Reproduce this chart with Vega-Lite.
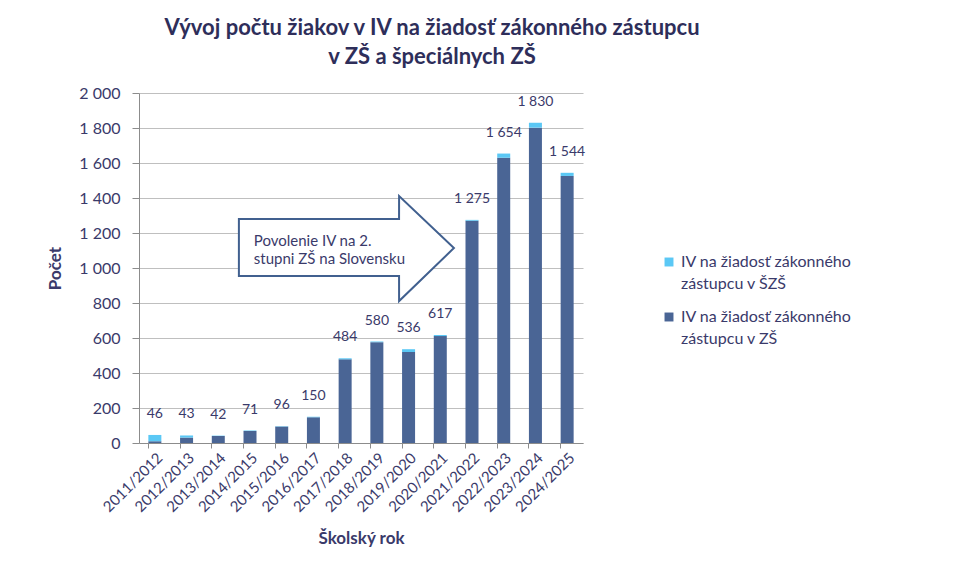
{
  "$schema": "https://vega.github.io/schema/vega-lite/v6.json",
  "width": 444,
  "height": 350,
  "padding": {"left": 46, "top": 17, "right": 10, "bottom": 10},
  "background": "white",
  "title": {
    "text": ["Vývoj počtu žiakov v IV na žiadosť zákonného zástupcu", "v ZŠ a špeciálnych ZŠ"],
    "font": "Lato", "fontSize": 22, "fontWeight": "bold", "color": "#2e2e5a",
    "anchor": "middle", "offset": 16, "lineHeight": 29, "dx": 71
  },
  "config": {
    "locale": {"number": {"decimal": ",", "thousands": " ", "grouping": [3], "currency": ["", " €"]}},
    "font": "Lato",
    "view": {"stroke": null},
    "style": {"guide-label": {"lineHeight": 22}}
  },
  "datasets": {
    "parts": [
      {"rok": "2011/2012", "typ": "IV na žiadosť zákonného zástupcu v ZŠ", "pocet": 10},
      {"rok": "2011/2012", "typ": "IV na žiadosť zákonného zástupcu v ŠZŠ", "pocet": 36},
      {"rok": "2012/2013", "typ": "IV na žiadosť zákonného zástupcu v ZŠ", "pocet": 31},
      {"rok": "2012/2013", "typ": "IV na žiadosť zákonného zástupcu v ŠZŠ", "pocet": 12},
      {"rok": "2013/2014", "typ": "IV na žiadosť zákonného zástupcu v ZŠ", "pocet": 40},
      {"rok": "2013/2014", "typ": "IV na žiadosť zákonného zástupcu v ŠZŠ", "pocet": 2},
      {"rok": "2014/2015", "typ": "IV na žiadosť zákonného zástupcu v ZŠ", "pocet": 69},
      {"rok": "2014/2015", "typ": "IV na žiadosť zákonného zástupcu v ŠZŠ", "pocet": 2},
      {"rok": "2015/2016", "typ": "IV na žiadosť zákonného zástupcu v ZŠ", "pocet": 94},
      {"rok": "2015/2016", "typ": "IV na žiadosť zákonného zástupcu v ŠZŠ", "pocet": 2},
      {"rok": "2016/2017", "typ": "IV na žiadosť zákonného zástupcu v ZŠ", "pocet": 147},
      {"rok": "2016/2017", "typ": "IV na žiadosť zákonného zástupcu v ŠZŠ", "pocet": 3},
      {"rok": "2017/2018", "typ": "IV na žiadosť zákonného zástupcu v ZŠ", "pocet": 478},
      {"rok": "2017/2018", "typ": "IV na žiadosť zákonného zástupcu v ŠZŠ", "pocet": 6},
      {"rok": "2018/2019", "typ": "IV na žiadosť zákonného zástupcu v ZŠ", "pocet": 576},
      {"rok": "2018/2019", "typ": "IV na žiadosť zákonného zástupcu v ŠZŠ", "pocet": 4},
      {"rok": "2019/2020", "typ": "IV na žiadosť zákonného zástupcu v ZŠ", "pocet": 520},
      {"rok": "2019/2020", "typ": "IV na žiadosť zákonného zástupcu v ŠZŠ", "pocet": 16},
      {"rok": "2020/2021", "typ": "IV na žiadosť zákonného zástupcu v ZŠ", "pocet": 611},
      {"rok": "2020/2021", "typ": "IV na žiadosť zákonného zástupcu v ŠZŠ", "pocet": 6},
      {"rok": "2021/2022", "typ": "IV na žiadosť zákonného zástupcu v ZŠ", "pocet": 1270},
      {"rok": "2021/2022", "typ": "IV na žiadosť zákonného zástupcu v ŠZŠ", "pocet": 5},
      {"rok": "2022/2023", "typ": "IV na žiadosť zákonného zástupcu v ZŠ", "pocet": 1630},
      {"rok": "2022/2023", "typ": "IV na žiadosť zákonného zástupcu v ŠZŠ", "pocet": 24},
      {"rok": "2023/2024", "typ": "IV na žiadosť zákonného zástupcu v ZŠ", "pocet": 1802},
      {"rok": "2023/2024", "typ": "IV na žiadosť zákonného zástupcu v ŠZŠ", "pocet": 28},
      {"rok": "2024/2025", "typ": "IV na žiadosť zákonného zástupcu v ZŠ", "pocet": 1526},
      {"rok": "2024/2025", "typ": "IV na žiadosť zákonného zástupcu v ŠZŠ", "pocet": 18}
    ],
    "totals": [
      {"rok": "2011/2012", "spolu": 46},
      {"rok": "2012/2013", "spolu": 43},
      {"rok": "2013/2014", "spolu": 42},
      {"rok": "2014/2015", "spolu": 71},
      {"rok": "2015/2016", "spolu": 96},
      {"rok": "2016/2017", "spolu": 150},
      {"rok": "2017/2018", "spolu": 484},
      {"rok": "2018/2019", "spolu": 580},
      {"rok": "2019/2020", "spolu": 536},
      {"rok": "2020/2021", "spolu": 617},
      {"rok": "2021/2022", "spolu": 1275},
      {"rok": "2022/2023", "spolu": 1654},
      {"rok": "2023/2024", "spolu": 1830},
      {"rok": "2024/2025", "spolu": 1544}
    ],
    "arrow": [
      {"ax": 3.15, "ay": 954, "ay2": 1280},
      {"ax": 8.2, "ay": 954, "ay2": 1280},
      {"ax": 8.201, "ay": 811, "ay2": 1411},
      {"ax": 9.93, "ay": 1114, "ay2": 1114}
    ],
    "note": [
      {"nx": 3.62, "ny": 1154, "txt": "Povolenie IV na 2.\nstupni ZŠ na Slovensku"}
    ]
  },
  "layer": [
    {
      "layer": [
        {
          "data": {"name": "parts"},
          "mark": {"type": "bar"},
          "encoding": {
            "x": {
              "field": "rok", "type": "nominal", "sort": null,
              "scale": {"paddingInner": 0.59, "paddingOuter": 0.295},
              "axis": {
                "title": "Školský rok", "titleFontSize": 17, "titleFontWeight": "bold", "titleColor": "#3a3a6a",
                "titlePadding": 16,
                "labelAngle": -45, "labelFontSize": 15, "labelColor": "#3a3a6a",
                "domainColor": "#8c8c8c", "tickColor": "#8c8c8c", "tickSize": 5,
                "bandPosition": 0
              }
            },
            "y": {
              "field": "pocet", "type": "quantitative", "aggregate": "sum", "stack": "zero",
              "scale": {"domain": [0, 2000]},
              "axis": {
                "title": "Počet", "titleFontSize": 17, "titleFontWeight": "bold", "titleColor": "#3a3a6a",
                "titlePadding": 14,
                "values": [0, 200, 400, 600, 800, 1000, 1200, 1400, 1600, 1800, 2000],
                "labelOverlap": false,
                "format": ",d", "labelFontSize": 16, "labelColor": "#3a3a6a", "labelPadding": 12,
                "gridColor": "#bfbfbf", "domainColor": "#8c8c8c", "tickColor": "#8c8c8c", "tickSize": 7
              }
            },
            "color": {
              "field": "typ", "type": "nominal",
              "scale": {
                "domain": ["IV na žiadosť zákonného zástupcu v ŠZŠ", "IV na žiadosť zákonného zástupcu v ZŠ"],
                "range": ["#5bc8f5", "#4a6595"]
              },
              "legend": {
                "title": null, "orient": "none", "legendX": 522, "legendY": 161,
                "symbolType": "square", "symbolSize": 80, "symbolStrokeWidth": 0,
                "labelFontSize": 16, "labelColor": "#3a3a6a", "labelLimit": 300,
                "labelExpr": "[slice(datum.label, 0, 23), slice(datum.label, 24)]",
                "rowPadding": 17
              }
            },
            "order": {"field": "typ", "sort": "ascending"}
          }
        },
        {
          "data": {"name": "totals"},
          "mark": {"type": "text", "dy": -21, "fontSize": 14, "color": "#3a3a6a"},
          "encoding": {
            "x": {"field": "rok", "type": "nominal", "sort": null},
            "y": {
              "field": "spolu", "type": "quantitative",
              "axis": {
                "title": "Počet", "titleFontSize": 17, "titleFontWeight": "bold", "titleColor": "#3a3a6a",
                "titlePadding": 14,
                "values": [0, 200, 400, 600, 800, 1000, 1200, 1400, 1600, 1800, 2000],
                "labelOverlap": false,
                "format": ",d", "labelFontSize": 16, "labelColor": "#3a3a6a", "labelPadding": 12,
                "gridColor": "#bfbfbf", "domainColor": "#8c8c8c", "tickColor": "#8c8c8c", "tickSize": 7
              }
            },
            "text": {"field": "spolu", "type": "quantitative", "format": ",d"}
          }
        }
      ]
    },
    {
      "layer": [
        {
          "data": {"name": "arrow"},
          "mark": {"type": "area", "fill": "white", "stroke": "#41608f", "strokeWidth": 2, "opacity": 1},
          "encoding": {
            "x": {"field": "ax", "type": "quantitative", "scale": {"domain": [0, 14]}, "axis": null},
            "y": {
              "field": "ay", "type": "quantitative",
              "axis": {
                "title": "Počet", "titleFontSize": 17, "titleFontWeight": "bold", "titleColor": "#3a3a6a",
                "titlePadding": 14,
                "values": [0, 200, 400, 600, 800, 1000, 1200, 1400, 1600, 1800, 2000],
                "labelOverlap": false,
                "format": ",d", "labelFontSize": 16, "labelColor": "#3a3a6a", "labelPadding": 12,
                "gridColor": "#bfbfbf", "domainColor": "#8c8c8c", "tickColor": "#8c8c8c", "tickSize": 7
              }
            },
            "y2": {"field": "ay2"}
          }
        },
        {
          "data": {"name": "note"},
          "mark": {"type": "text", "align": "left", "baseline": "middle", "fontSize": 15, "color": "#3a3a6a", "lineBreak": "\n", "lineHeight": 18},
          "encoding": {
            "x": {"field": "nx", "type": "quantitative", "scale": {"domain": [0, 14]}, "axis": null},
            "y": {
              "field": "ny", "type": "quantitative",
              "axis": {
                "title": "Počet", "titleFontSize": 17, "titleFontWeight": "bold", "titleColor": "#3a3a6a",
                "titlePadding": 14,
                "values": [0, 200, 400, 600, 800, 1000, 1200, 1400, 1600, 1800, 2000],
                "labelOverlap": false,
                "format": ",d", "labelFontSize": 16, "labelColor": "#3a3a6a", "labelPadding": 12,
                "gridColor": "#bfbfbf", "domainColor": "#8c8c8c", "tickColor": "#8c8c8c", "tickSize": 7
              }
            },
            "text": {"field": "txt"}
          }
        }
      ]
    }
  ],
  "resolve": {"scale": {"x": "independent"}}
}
